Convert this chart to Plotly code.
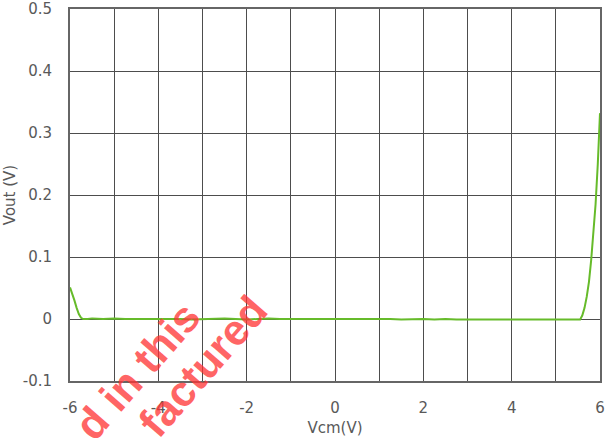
import plotly.graph_objects as go

vcm = [-6.0, -5.95, -5.9, -5.85, -5.8, -5.75, -5.7, -5.6, -5.5, -5.25, -5.0, -4.75, -4.5, -4.25,
       -4.0, -3.75, -3.5, -3.25, -3.0, -2.75, -2.5, -2.25, -2.0, -1.75, -1.5, -1.25, -1.0,
       -0.75, -0.5, -0.25, 0.0, 0.25, 0.5, 0.75, 1.0, 1.25, 1.5, 1.75, 2.0, 2.25, 2.5, 2.75,
       3.0, 3.25, 3.5, 3.75, 4.0, 4.25, 4.5, 4.75, 5.0, 5.25, 5.5, 5.55, 5.6, 5.65, 5.7, 5.75,
       5.8, 5.85, 5.9, 5.95, 6.0]
vout = [0.051, 0.042, 0.030, 0.018, 0.008, 0.002, 0.000, 0.000, 0.001, 0.000, 0.001, 0.000,
        0.000, 0.001, 0.000, 0.001, 0.000, -0.001, 0.000, 0.000, 0.001, 0.000, -0.001, 0.000,
        0.001, 0.000, 0.000, 0.000, 0.001, 0.000, 0.001, 0.000, 0.000, 0.001, 0.000, 0.000,
        -0.001, 0.000, 0.000, -0.001, 0.000, -0.001, -0.001, -0.002, -0.001, -0.002, -0.002,
        -0.002, -0.001, -0.002, -0.002, -0.002, -0.002, -0.001, 0.006, 0.018, 0.036, 0.060,
        0.095, 0.135, 0.185, 0.250, 0.332]

x_ticks = [-6, -5, -4, -3, -2, -1, 0, 1, 2, 3, 4, 5, 6]
x_labels = ["-6", "", "-4", "", "-2", "", "0", "", "2", "", "4", "", "6"]
y_ticks = [-0.1, 0.0, 0.1, 0.2, 0.3, 0.4, 0.5]
y_labels = ["-0.1", "0", "0.1", "0.2", "0.3", "0.4", "0.5"]

fig = go.Figure()
fig.add_trace(go.Scatter(x=vcm, y=vout, mode="lines",
                         line=dict(color="#66bb2a", width=2), showlegend=False))

font = dict(family="DejaVu Sans", size=15, color="#595959")
fig.update_layout(
    width=605, height=441,
    margin=dict(l=70, r=5, t=9, b=60, autoexpand=False),
    paper_bgcolor="white", plot_bgcolor="white",
    font=font,
    xaxis=dict(range=[-6, 6], tickvals=x_ticks, ticktext=x_labels, automargin=False,
               showgrid=True, gridcolor="#4d4d4d", gridwidth=1,
               showline=True, linecolor="#666666", linewidth=2, mirror=True,
               zeroline=False, ticks="", ticklen=0, ticklabelstandoff=12,
               title=dict(text="Vcm(V)", standoff=6, font=font)),
    yaxis=dict(range=[-0.1, 0.5], tickvals=y_ticks, ticktext=y_labels, automargin=False,
               showgrid=True, gridcolor="#4d4d4d", gridwidth=1,
               showline=True, linecolor="#666666", linewidth=2, mirror=True,
               zeroline=False, ticks="", ticklen=0, ticklabelstandoff=13,
               title=dict(text="Vout (V)", standoff=3, font=font)),
)

wm_font = dict(family="Liberation Sans", size=43, color="rgba(255,50,50,0.75)", weight="bold")
fig.add_annotation(text="d in this", xref="paper", yref="paper",
                   x=(137 - 70) / 530, y=(381 - 371) / 372, textangle=-49,
                   showarrow=False, font=wm_font, xanchor="center", yanchor="middle")
fig.add_annotation(text="factured", xref="paper", yref="paper",
                   x=(203 - 70) / 530, y=(381 - 366) / 372, textangle=-49,
                   showarrow=False, font=wm_font, xanchor="center", yanchor="middle")

fig.write_html("out.html")
